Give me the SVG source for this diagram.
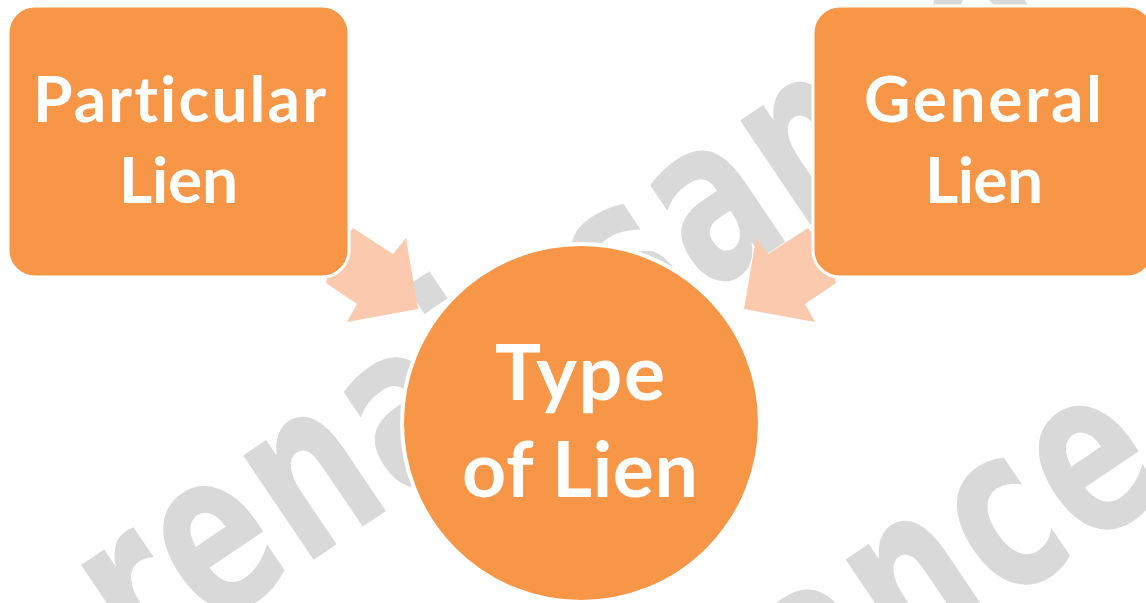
<svg xmlns="http://www.w3.org/2000/svg" width="1146" height="603" viewBox="0 0 1146 603">
  <style>
    .wm { font-family: "DejaVu Sans", sans-serif; font-weight: bold; font-size: 230px; letter-spacing: 7px; fill: #d9d9d9; }
    .box { fill: #f79646; stroke: #ffffff; stroke-width: 3; }
    .hub { fill: #f79646; stroke: #ffffff; stroke-width: 4; }
    .arrow { fill: #fbcaae; }
    .lbl { font-family: Lato, "Open Sans", sans-serif; font-weight: bold; fill: #ffffff; text-anchor: middle; font-variant-ligatures: none; }
    .lbl-box { font-size: 64px; }
    .lbl-hub { font-size: 77px; }
  </style>

  <rect width="1146" height="603" fill="#ffffff"/>

  <!-- background watermark lettering -->
  <g id="watermark">
    <text class="wm" transform="translate(140.4,676.7) rotate(-34) scale(0.69,1)">renaissance</text>
    <text class="wm" transform="translate(140.4,676.7) rotate(-34) translate(-158,423) scale(0.69,1)">renaissance</text>
  </g>

  <!-- connectors: notched block arrows pointing into the hub -->
  <g id="connectors">
    <polygon class="arrow" points="353,228 393,254 406,238 418,309 347,322 357,304 326,283 335,250"/>
    <polygon class="arrow" points="808,228 768,254 756,238 744,309 815,322 805,304 836,283 826,250"/>
  </g>

  <g id="node-particular">
    <rect class="box" x="8" y="6" width="341" height="271" rx="27" ry="27"/>
    <text class="lbl lbl-box" x="179.5" y="122" textLength="293" lengthAdjust="spacing">Particular</text>
    <text class="lbl lbl-box" x="178.5" y="203" textLength="119" lengthAdjust="spacing">Lien</text>
  </g>

  <g id="node-general">
    <rect class="box" x="813" y="6" width="341" height="271" rx="27" ry="27"/>
    <text class="lbl lbl-box" x="983" y="122" textLength="238" lengthAdjust="spacing">General</text>
    <text class="lbl lbl-box" x="984" y="203" textLength="118" lengthAdjust="spacing">Lien</text>
  </g>

  <g id="node-type">
    <circle class="hub" cx="581" cy="423" r="179"/>
    <text class="lbl lbl-hub" x="580" y="400" textLength="170" lengthAdjust="spacing">Type</text>
    <text class="lbl lbl-hub" x="580" y="497" textLength="236" lengthAdjust="spacing">of Lien</text>
  </g>
</svg>
